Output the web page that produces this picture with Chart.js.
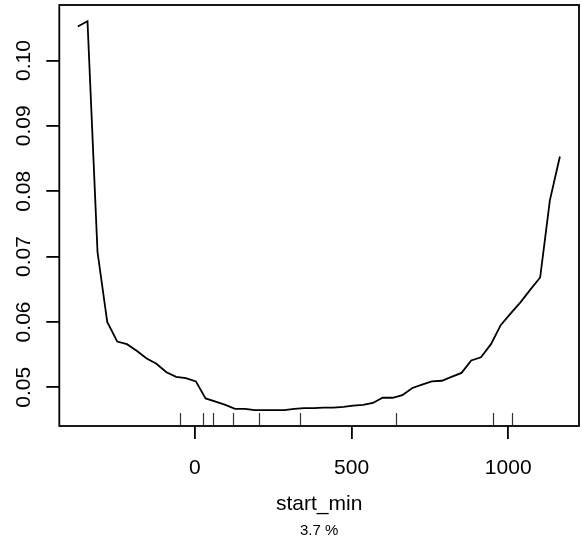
<!DOCTYPE html>
<html>
<head>
<meta charset="utf-8">
<script src="https://cdn.jsdelivr.net/npm/chart.js@4.4.1/dist/chart.umd.min.js"></script>
<style>
  html, body { margin: 0; padding: 0; background: #fff; }
  #c { display: block; }
</style>
</head>
<body>
<canvas id="c" width="582" height="545"></canvas>
<script>
// partial dependence of start_min
const startMin = [
  -374, -343, -311, -280, -248, -217, -186, -154, -123, -91,
  -60, -29, 3, 34, 66, 97, 128, 160, 191, 223,
  254, 285, 317, 348, 380, 411, 442, 474, 505, 537,
  568, 599, 631, 662, 694, 725, 756, 788, 819, 851,
  882, 913, 945, 976, 1008, 1039, 1070, 1102, 1133, 1165
];
const effect = [
  0.1052, 0.1060, 0.0707, 0.0600, 0.0570, 0.0566, 0.0556, 0.0544, 0.0536, 0.0523,
  0.0516, 0.0514, 0.0509, 0.0483, 0.0478, 0.0473, 0.0467, 0.0467, 0.0465, 0.0465,
  0.0465, 0.0465, 0.0467, 0.0468, 0.0468, 0.0469, 0.0469, 0.0470, 0.0472, 0.0473,
  0.0476, 0.0484, 0.0484, 0.0488, 0.0499, 0.0504, 0.0509, 0.0510, 0.0516, 0.0522,
  0.0541, 0.0546, 0.0566, 0.0595, 0.0613, 0.0630, 0.0649, 0.0668, 0.0786, 0.0853
];
const rugMin = [-48, 25, 58, 122, 205, 335, 641, 950, 1012];
const xTicks = [0, 500, 1000];
const yTicks = [0.05, 0.06, 0.07, 0.08, 0.09, 0.10];
const xTitle = 'start_min';
const subTitle = '3.7 %';

const FONT = "'Liberation Sans', Arial, Helvetica, sans-serif";

// box, rug, rotated y labels and the two bottom titles
const rPlot = {
  id: 'rPlot',
  afterDatasetsDraw(chart) {
    const { ctx, chartArea: a, scales } = chart;
    ctx.save();
    ctx.strokeStyle = '#333';
    ctx.lineWidth = 1.2;
    rugMin.forEach(v => {
      const px = Math.round(scales.x.getPixelForValue(v)) + 0.5;
      ctx.beginPath();
      ctx.moveTo(px, a.bottom);
      ctx.lineTo(px, a.bottom - 13);
      ctx.stroke();
    });
    ctx.strokeStyle = '#000';
    ctx.lineWidth = 1.8;
    ctx.strokeRect(a.left, a.top, a.right - a.left, a.bottom - a.top);
    ctx.restore();
  },
  afterDraw(chart) {
    const { ctx, chartArea: a, scales } = chart;
    ctx.save();
    ctx.fillStyle = '#000';
    ctx.font = '21px ' + FONT;
    ctx.textAlign = 'center';
    ctx.textBaseline = 'middle';
    scales.y.ticks.forEach(t => {
      const py = scales.y.getPixelForValue(t.value);
      ctx.save();
      ctx.translate(24, py);
      ctx.rotate(-Math.PI / 2);
      ctx.fillText(t.value.toFixed(2), 0, 0);
      ctx.restore();
    });
    const cx = (a.left + a.right) / 2;
    ctx.fillText(xTitle, cx, 504);
    ctx.font = '15px ' + FONT;
    ctx.fillText(subTitle, cx, 531);
    ctx.restore();
  }
};

new Chart(document.getElementById('c'), {
  type: 'line',
  data: {
    datasets: [{
      data: startMin.map((x, i) => ({ x, y: effect[i] })),
      borderColor: '#000',
      borderWidth: 1.8,
      pointRadius: 0,
      tension: 0,
      fill: false
    }]
  },
  options: {
    responsive: false,
    animation: false,
    layout: { padding: { top: 5, right: 3, left: 0, bottom: 0 } },
    plugins: {
      legend: { display: false },
      tooltip: { enabled: false }
    },
    scales: {
      x: {
        type: 'linear',
        min: -433,
        max: 1226,
        afterBuildTicks: s => { s.ticks = xTicks.map(v => ({ value: v })); },
        afterFit: s => { s.height = 119; },
        border: { display: false },
        grid: { drawOnChartArea: false, drawTicks: true, tickLength: 13, color: '#000', lineWidth: 1.8 },
        ticks: {
          color: '#000',
          font: { family: FONT, size: 21 },
          padding: 17,
          maxRotation: 0,
          autoSkip: false,
          callback: v => String(v)
        }
      },
      y: {
        min: 0.04408,
        max: 0.10849,
        afterBuildTicks: s => { s.ticks = yTicks.map(v => ({ value: v })); },
        afterFit: s => { s.width = 59.3; },
        border: { display: false },
        grid: { drawOnChartArea: false, drawTicks: true, tickLength: 13, color: '#000', lineWidth: 1.8 },
        ticks: { display: false }
      }
    }
  },
  plugins: [rPlot]
});
</script>
</body>
</html>
